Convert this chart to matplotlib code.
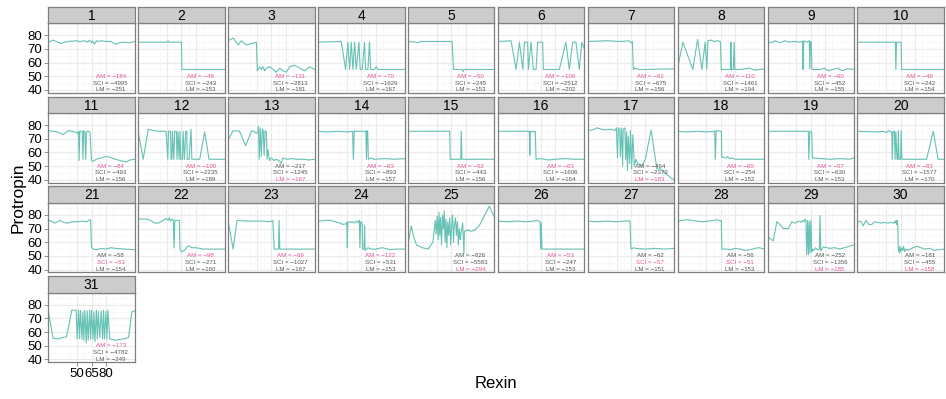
import matplotlib
matplotlib.use("Agg")
import matplotlib.pyplot as plt

plt.rcParams['font.family'] = ['Liberation Sans', 'DejaVu Sans']

# ---- data: one line per panel (Rexin, Protropin) ----
x_1 = [20, 25, 30, 33, 37, 41, 49, 53, 58, 61, 63, 65, 66, 68, 70, 72, 75, 80, 85, 90, 94, 99, 104, 110]
y_1 = [75, 76.5, 75, 74, 75, 75.5, 76, 75.5, 76, 75, 76.5, 74.5, 76, 73.5, 76, 75.5, 76, 75.5, 75.5, 73.5, 74.5, 75, 74.5, 75.5]
x_2 = [20, 50, 51, 52, 65, 65.5, 110]
y_2 = [75, 75, 76, 75, 75, 55, 55]
x_3 = [20, 25.2, 30.4, 33.8, 39, 44.2, 49.4, 50.4, 52.9, 54.6, 56.3, 58.1, 59.8, 63.3, 66.7, 70.2, 73.6, 77.1, 80.6, 84, 89.2, 94.4, 99.6, 104.8, 110]
y_3 = [76, 78, 73, 76, 73, 74, 75, 54, 57, 55, 57, 54, 56, 57, 55, 53, 56, 54, 53, 57, 58, 56, 54, 57, 55]
x_4 = [20, 44.2, 48.7, 51.1, 52.9, 54.6, 56.3, 58.1, 59.8, 62.6, 63.9, 66, 68.4, 69.5, 71.9, 73.6, 74.7, 77.1, 78.8, 80.6, 82.3, 110]
y_4 = [75, 75.5, 55, 75, 55, 75, 55, 75, 55, 75, 55, 55, 75, 55, 55, 75, 55, 55, 55, 57, 55, 55]
x_5 = [20, 28, 30.4, 33, 66, 67.4, 76.4, 77.4, 78.5, 110]
y_5 = [75.5, 75, 74.5, 75.5, 75.5, 55, 55, 53.5, 55, 55]
x_6 = [20, 33.8, 39, 42.5, 46, 47.7, 51.1, 51.8, 54.6, 57, 59.8, 61.5, 66.7, 67.4, 84, 90.9, 94.4, 97.9, 101.3, 104.8, 107.5, 110]
y_6 = [75.5, 76, 55, 75, 55, 75, 75, 55, 75, 55, 55, 75, 75, 55, 55, 75, 55, 75, 75, 55, 75, 70]
x_7 = [20, 40, 55, 63, 65, 66.5, 67.5, 68.5, 73.5, 80, 110]
y_7 = [75.5, 76, 75.5, 76, 74.5, 75.5, 55, 56, 55, 55, 55.5]
x_8 = [20, 25.5, 35.9, 40.8, 45.3, 48.7, 50.4, 51.5, 55, 58, 62, 64.5, 65.5, 75, 75.4, 76.1, 78, 78.8, 79.5, 85, 95, 100, 110]
y_8 = [56, 75, 55, 77, 55, 75, 55, 76, 76.5, 75.5, 76, 75.5, 55, 55, 75, 55, 55, 75, 55, 55, 56, 54.5, 55.5]
x_9 = [20, 24, 28, 33, 38, 43, 48, 53, 56.5, 57, 57.6, 61, 63.5, 64, 64.7, 65.5, 66.2, 75, 79, 83, 88, 93, 98, 103, 110]
y_9 = [75.5, 74.5, 76, 74.5, 76, 75, 75.5, 75, 75.5, 55, 76, 75, 76, 55.5, 75.5, 75, 55, 55, 56, 54, 55, 56, 54, 55.5, 55]
x_10 = [20, 59.5, 60, 60.7, 65.5, 66, 110]
y_10 = [75, 75, 55, 75, 75, 55, 55]
x_11 = [20, 30, 35.5, 40.8, 47.7, 50, 51.5, 52, 52.8, 55.3, 56, 56.8, 58.1, 59, 59.6, 61.5, 63.3, 65, 66.5, 70, 75, 80, 84, 90, 95, 101.3, 105, 110]
y_11 = [76, 75, 73, 76, 75, 74, 75.5, 54, 75.5, 75.5, 55, 76, 75, 55, 75, 75.5, 75, 54, 53.5, 55, 56, 57, 56.5, 55, 54, 53, 54.5, 55]
x_12 = [20, 25.2, 30.4, 36, 42, 49, 50.8, 51.5, 53.6, 54.2, 55, 55.6, 57, 58, 59.8, 60.4, 61.5, 62.6, 63.5, 64.3, 66, 66.7, 68, 69.5, 70.5, 71, 73, 75, 75.8, 84, 89.2, 93.7, 110]
y_12 = [75, 55, 77, 76, 75.5, 75.5, 55, 75.5, 75.5, 55, 55, 75.5, 55, 75.5, 75.5, 55, 75, 55, 75.5, 55, 55, 75.5, 55, 75.5, 75.5, 55, 55, 77, 55, 55, 75, 55, 55]
x_13 = [20, 25.2, 32, 38.3, 44.2, 46, 49.4, 51, 51.6, 52.3, 53.5, 54.5, 55.6, 56.5, 57.5, 58.5, 59.8, 60.5, 61.5, 63, 65, 68, 70, 73, 75.3, 77, 81, 86, 92, 98, 104, 110]
y_13 = [69, 76, 75.5, 65, 75.5, 76, 74, 75, 79, 55, 78, 57, 77, 76, 58, 76, 75, 55, 62, 54, 56, 54, 55, 54, 52, 56, 55, 55.5, 55, 55, 54.5, 55]
x_14 = [20, 30, 40, 50, 56, 56.8, 57.8, 58.8, 69.8, 70.4, 71, 71.7, 72.4, 75.4, 78, 90, 100, 110]
y_14 = [75.5, 75, 75.5, 75, 75.5, 55, 76, 75.5, 75.5, 55, 76, 75, 55, 56, 55, 55.5, 55, 55.5]
x_15 = [20, 63.5, 64, 75, 75.5, 76.2, 110]
y_15 = [75.5, 75.5, 55, 55, 75.5, 55, 55]
x_16 = [20, 52, 52.8, 53.3, 53.9, 55.5, 56.5, 59, 59.8, 65, 72, 80, 90, 100, 110]
y_16 = [75.5, 75.5, 75.5, 58, 75.5, 75.5, 75, 75.5, 55, 55.5, 54.5, 55, 55.5, 55, 55]
x_17 = [20, 25.3, 29.8, 34.1, 39.3, 44.6, 48.1, 49.9, 51, 52, 53.4, 54, 55.2, 56.3, 57, 58.7, 59.5, 60.4, 61.3, 62.2, 63.5, 64.5, 65.7, 67, 68.5, 70, 72, 76, 80, 83, 86, 89, 92, 96, 100, 104, 107, 110]
y_17 = [76, 76.5, 78, 77, 76.5, 77, 76, 78, 56, 78, 77, 57, 78, 50, 77, 78, 55, 75, 47, 72, 52, 76, 48, 73, 50, 55, 52, 50, 55, 66, 76.5, 62, 48, 48, 45, 43, 41, 40]
x_18 = [20, 30, 40, 50, 58.5, 59.3, 60.1, 65.5, 66, 70, 72, 74, 77, 80, 90, 110]
y_18 = [75.5, 75, 75.5, 75, 75.5, 55, 76, 75.5, 56.5, 56, 57, 55.5, 56, 55, 55, 55]
x_19 = [20, 62.5, 63, 64, 66, 66.8, 75, 85, 95, 105, 110]
y_19 = [75.5, 75.5, 55, 75.5, 75, 56, 55.5, 55, 55.5, 55, 56]
x_20 = [20, 40, 47, 50, 53, 55.8, 56.3, 57, 58.5, 59.2, 60, 61.2, 62, 62.6, 63.3, 65, 65.5, 66.3, 70, 92, 98.9, 104, 110]
y_20 = [75.5, 75, 75.5, 74.5, 76, 75, 55, 75, 75.5, 55, 75, 55, 55, 76, 55, 55, 76, 55, 55, 55, 75.5, 55, 55]
x_21 = [20, 24, 27, 32, 36, 40, 45, 50, 55, 60, 62, 64, 65, 67, 70, 75, 80, 85, 90, 100, 110]
y_21 = [76.5, 75, 74, 76, 74.5, 74, 75, 75, 75.5, 75, 76, 76.5, 56, 55, 54.5, 55.5, 55, 56, 55.5, 55, 54.5]
x_22 = [20, 28, 33, 37, 41, 46, 49, 51, 52.4, 53.5, 55, 56.5, 57.3, 58.1, 60, 62.8, 63.5, 65, 68, 72, 76, 80, 88, 95, 110]
y_22 = [77, 77, 76, 74, 74, 76, 77.5, 76, 78, 75.5, 77, 76, 56, 76, 76, 76, 55, 53, 54, 57.5, 56, 56, 55, 55, 55]
x_23 = [20, 25.2, 29.3, 40, 55, 64, 66.5, 68, 72.5, 73, 73.8, 110]
y_23 = [76, 55, 76, 75.5, 75.5, 75, 76, 55, 55, 76, 55, 55]
x_24 = [20, 27, 33, 38, 43, 46, 49, 50, 50.5, 51, 53, 56, 58, 60, 62, 63, 63.6, 64.3, 66, 66.5, 68, 68.5, 69, 72, 75, 80, 87, 95, 100, 110]
y_24 = [75.5, 76, 76, 75, 74, 73, 73.5, 74.5, 56, 75, 74.5, 75, 74, 75.5, 74.5, 76, 56, 75, 74, 55, 55, 72, 54, 56, 55, 55, 56, 54.5, 55, 55]
x_25 = [20, 23.5, 26, 29, 35, 41, 46, 48.5, 49.4, 50.5, 51.5, 52.3, 53.2, 54, 55, 56, 57, 57.8, 58.7, 59.6, 60.5, 61.5, 62.5, 63.5, 64.5, 65.5, 66.5, 67.5, 68, 69.5, 70.5, 71.5, 72.5, 73.5, 74.5, 75, 76, 77, 78.3, 78.8, 82, 86, 90, 95, 100, 104.8, 108, 110]
y_25 = [58, 72, 64, 58, 56, 55, 60, 76, 66, 79, 62, 82, 65, 78, 58, 80, 70, 83, 60, 77, 56, 75, 65, 78, 58, 72, 80, 60, 70, 78, 65, 75, 58, 70, 62, 66, 69, 74, 52, 68, 69, 68, 69, 73, 80, 86.5, 81, 78.5]
x_26 = [20, 30, 40, 50, 58, 60, 63, 64, 64.6, 65.2, 66, 110]
y_26 = [75.5, 75, 75.5, 75, 75.5, 76, 75.5, 75, 55, 74, 55, 55]
x_27 = [20, 30, 40, 50, 58, 62, 63.3, 64, 65, 68, 70, 80, 90, 100, 110]
y_27 = [75.5, 75, 75.5, 75, 75.5, 75.5, 76, 75, 55, 56, 55.5, 55, 55.5, 55, 55.5]
x_28 = [20, 25, 30, 40, 47, 52, 57.4, 62, 64, 65.5, 66, 72, 75, 80, 85, 90, 95, 100, 105, 110]
y_28 = [75.5, 76, 76.5, 75.5, 75, 75.5, 76, 76.5, 75.5, 76, 55, 55, 54.5, 55.5, 55, 54, 54.5, 55.5, 56, 55]
x_29 = [20, 26, 29.7, 33, 36.6, 41.8, 45.3, 48.7, 51, 53.9, 55, 57, 58, 59.1, 60, 60.8, 61.8, 62.6, 63.5, 64.3, 65.2, 66, 67, 68, 70, 72, 74, 74.7, 75.4, 78, 82, 85, 90, 95, 100, 105, 110]
y_29 = [64, 61, 75, 73, 70, 70, 75, 74, 75, 75.5, 74.5, 76, 75, 77, 76, 51, 76, 51, 75, 52, 76, 53, 55, 54, 56, 54.5, 55, 79.5, 54, 56.5, 56, 55.5, 56, 55, 56, 57, 58]
x_30 = [20, 24, 26, 29, 32, 35, 38, 41, 45, 48, 52, 55, 58, 59, 60, 60.5, 61, 61.5, 62, 62.6, 63.5, 64, 65, 66, 67, 68, 69, 70, 72, 75, 78, 82, 86, 90, 95, 100, 104, 110]
y_30 = [75.5, 75, 72, 76, 73, 73, 75, 74.5, 74, 74.5, 74, 74.5, 74, 75.5, 74, 76, 73, 76, 72, 55, 52, 57, 53, 56, 54, 57, 53, 55, 54, 55, 56, 57, 56, 55, 55.5, 54, 54.5, 55]
x_31 = [20, 25, 30, 35, 39, 44.5, 49, 50, 51.5, 52.5, 53.5, 55, 56, 57, 58, 59.5, 60.5, 61.5, 63, 64, 65, 66.5, 67.5, 68.5, 70, 71, 72, 73.5, 75, 76.5, 77.5, 78.5, 80, 81, 82, 84, 90, 98, 103.5, 107, 110]
y_31 = [75, 55.5, 55, 56, 56.5, 76, 76, 55, 76, 55, 76, 55, 75, 54, 76, 52, 75.5, 54, 76, 55, 76, 55, 75, 53, 76, 55, 75, 56, 75.5, 55, 76, 55, 75, 55, 76, 55, 54, 55, 56, 75, 75.5]

panel_x = [x_1, x_2, x_3, x_4, x_5, x_6, x_7, x_8, x_9, x_10, x_11, x_12, x_13, x_14, x_15, x_16,
           x_17, x_18, x_19, x_20, x_21, x_22, x_23, x_24, x_25, x_26, x_27, x_28, x_29, x_30, x_31]
panel_y = [y_1, y_2, y_3, y_4, y_5, y_6, y_7, y_8, y_9, y_10, y_11, y_12, y_13, y_14, y_15, y_16,
           y_17, y_18, y_19, y_20, y_21, y_22, y_23, y_24, y_25, y_26, y_27, y_28, y_29, y_30, y_31]

# model scores per panel
am = [-184, -48, -131, -70, -50, -109, -62, -110, -60, -49, -84, -100, -217, -63, -52, -63,
      -464, -60, -57, -83, -58, -98, -69, -122, -826, -53, -62, -56, -252, -181, -173]
sci = [-4995, -243, -2813, -1629, -245, -2512, -675, -1461, -452, -242, -493, -2235, -1245, -893, -443, -1606,
       -2379, -254, -630, -1577, -53, -271, -1027, -531, -5583, -247, -57, -51, -1356, -455, -4782]
lm = [-251, -153, -181, -167, -153, -202, -156, -194, -155, -154, -156, -189, -167, -157, -156, -164,
      -183, -152, -153, -170, -154, -160, -167, -153, -294, -153, -151, -153, -185, -158, -249]

W, H = 946, 399
fig = plt.figure(figsize=(W / 100, H / 100), dpi=100)

def px_axes(left, top, w, h):
    return fig.add_axes([left / W, 1 - (top + h) / H, w / W, h / H])

line_col = '#66C2B4'
pink = '#E0569A'
grey_txt = '#555555'
border = '#7F7F7F'

for i in range(31):
    r, c = divmod(i, 10)
    left = 48.3 + 89.9 * c
    top = 23.3 + 89.8 * r
    pw, ph = 86.5, 69.4

    ax = px_axes(left, top, pw, ph)
    ax.set_xlim(20, 110)
    ax.set_ylim(38, 88.8)
    ax.set_xticks([50, 65, 80])
    ax.set_xticks([42.5, 57.5, 72.5, 87.5], minor=True)
    ax.set_yticks([40, 50, 60, 70, 80])
    ax.set_yticks([45, 55, 65, 75, 85], minor=True)
    ax.grid(True, which='major', color='#EBEBEB', lw=0.8)
    ax.grid(True, which='minor', color='#F5F5F5', lw=0.5)
    ax.set_axisbelow(True)
    for s in ax.spines.values():
        s.set_color(border)
        s.set_linewidth(0.9)
    ax.tick_params(which='minor', length=0)
    ax.tick_params(which='major', length=3, width=0.6, color='#7F7F7F',
                   labelsize=9.5, pad=1.5)
    if c != 0:
        ax.tick_params(axis='y', length=0, labelleft=False)
    if i != 30:
        ax.tick_params(axis='x', length=0, labelbottom=False)

    ax.plot(panel_x[i], panel_y[i], color=line_col, lw=0.8)

    best = max(am[i], sci[i], lm[i])
    for lab, v, yy in [('AM', am[i], 50), ('SCI', sci[i], 45), ('LM', lm[i], 40)]:
        ax.text(85, yy, f'{lab} = \u2212{abs(v)}', fontsize=4.4, ha='center', va='center',
                color=pink if v == best else grey_txt)

    st = px_axes(left, top - 16.5, pw, 16.5)
    st.set_facecolor('#CCCCCC')
    st.set_xticks([])
    st.set_yticks([])
    for s in st.spines.values():
        s.set_color(border)
        s.set_linewidth(0.9)
    st.text(0.5, 0.45, str(i + 1), ha='center', va='center', fontsize=10,
            transform=st.transAxes)

fig.text(496 / W, 1 - 383 / H, 'Rexin', ha='center', va='center', fontsize=12)
fig.text(18 / W, 1 - 198 / H, 'Protropin', ha='center', va='center', fontsize=12.5,
         rotation=90)

fig.savefig('out.png', dpi=100)
